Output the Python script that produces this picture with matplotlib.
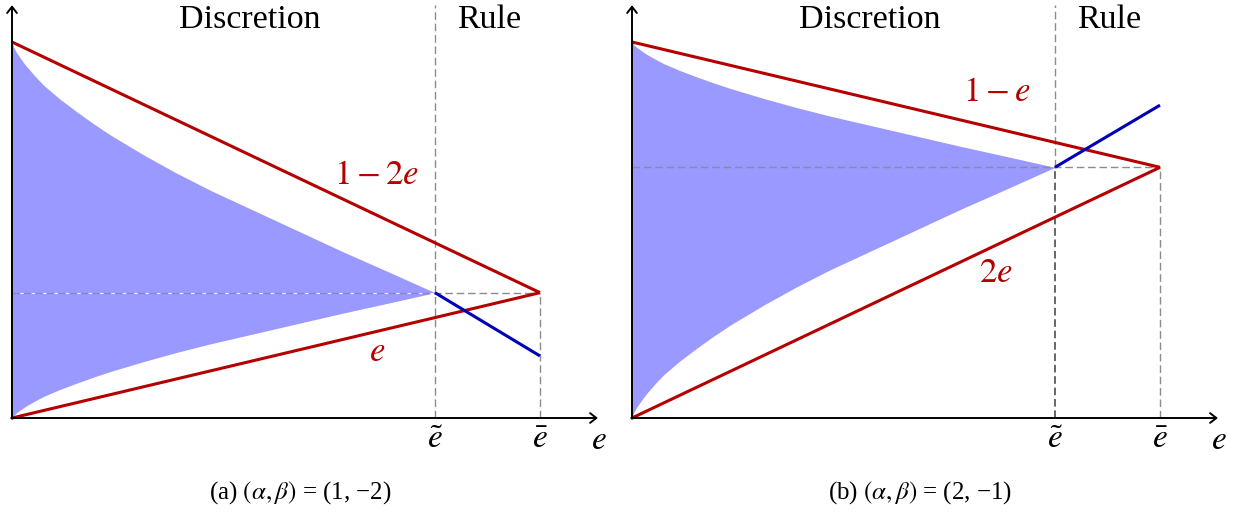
import numpy as np
import matplotlib
matplotlib.use("Agg")
import matplotlib.pyplot as plt

plt.rcParams['font.family'] = ['Liberation Serif', 'DejaVu Serif']
plt.rcParams['mathtext.fontset'] = 'stix'

# ---------------- data ----------------
e_tilde = [0.267, 0.267]          # (a), (b)
e_bar = [1 / 3, 1 / 3]
cross_y = [1 / 3, 2 / 3]          # value of the red lines at e_bar

# red boundary lines (endpoints at e = 0 and e = e_bar)
red_e = [0.0, 1 / 3]
a_top_line = [1.0, 1 / 3]         # 1 - 2e
a_bot_line = [0.0, 1 / 3]         # e
b_top_line = [1.0, 2 / 3]         # 1 - e
b_bot_line = [0.0, 2 / 3]         # 2e

# blue "rule" segments
a_blue_y = [1 / 3, 0.165]
b_blue_y = [2 / 3, 0.832]

# shaded discretion region: all four boundaries share one measured profile g(e)
# (a): upper = 1 - 2g, lower = g      (b): upper = 1 - g, lower = 2g
g_e = [0, 0.001, 0.002, 0.0035, 0.005, 0.0075, 0.010, 0.015, 0.020, 0.030,
       0.041, 0.052, 0.062, 0.083, 0.104, 0.125, 0.146, 0.167, 0.188, 0.209,
       0.237, 0.267]
g_val = [0, 0.0065, 0.0110, 0.0160, 0.0205, 0.0280, 0.0345, 0.0465, 0.0575,
         0.0755, 0.0930, 0.1095, 0.1235, 0.1500, 0.1745, 0.1970, 0.2175,
         0.2380, 0.2585, 0.2790, 0.3050, 1 / 3]
upper_mult = [2, 1]
lower_mult = [1, 2]

line_labels = [[r'$1-2e$', r'$e$'], [r'$1-e$', r'$2e$']]
line_label_pos = [[(0.2298, 0.644), (0.2304, 0.1755)],
                  [(0.2301, 0.867), (0.2298, 0.383)]]
captions = [['(a) ', r'$(\alpha,\beta)$', ' = (1, \u22122)'],
            ['(b) ', r'$(\alpha,\beta)$', ' = (2, \u22121)']]
region_labels = ['Discretion', 'Rule']

# ---------------- styles ----------------
RED = '#b40000'
BLUE = '#0000b4'
FILL = '#9999ff'
GRAY = '#8c8c8c'

W, H = 1239, 516
fig = plt.figure(figsize=(W / 100, H / 100), dpi=100)

sx, sy = 1584.0, 376.0            # px per data unit
xlim = (-0.005, 0.385)
ylim = (-0.12, 1.10)
origins = [(12, 418), (632, 418)]

tops = [a_top_line, b_top_line]
bots = [a_bot_line, b_bot_line]
blues = [a_blue_y, b_blue_y]

g_e_arr = np.array(g_e)
g_arr = np.array(g_val)

for i, (ox, oy) in enumerate(origins):
    left_px = ox + xlim[0] * sx
    w_px = (xlim[1] - xlim[0]) * sx
    top_px = oy - ylim[1] * sy
    h_px = (ylim[1] - ylim[0]) * sy
    ax = fig.add_axes([left_px / W, 1 - (top_px + h_px) / H, w_px / W, h_px / H])
    ax.set_xlim(*xlim)
    ax.set_ylim(*ylim)
    ax.axis('off')

    et, eb, cy = e_tilde[i], e_bar[i], cross_y[i]

    # shaded region
    upper = 1 - upper_mult[i] * g_arr
    lower = lower_mult[i] * g_arr
    ax.fill_between(g_e_arr, lower, upper, color=FILL, lw=0, zorder=1)

    # dashed helper lines
    dkw = dict(color=GRAY, lw=1.0, dashes=(5.5, 2.7), zorder=2, clip_on=False)
    if i == 0:
        ax.plot([0, et], [cy, cy], color='white', lw=0.8, alpha=0.8, zorder=1.5)
    ax.plot([0, eb], [cy, cy], **dkw)
    ax.plot([eb, eb], [0, cy], **dkw)
    if i == 0:
        ax.plot([et, et], [0, 1.098], **dkw)
    else:
        ax.plot([et, et], [cy, 1.098], **dkw)
        ax.plot([et, et], [0, cy], color='#666666', lw=1.4,
                dashes=(5.5 / 1.4, 2.7 / 1.4), zorder=2.1, clip_on=False)

    # red lines
    ax.plot(red_e, tops[i], color=RED, lw=2.2, zorder=3, solid_capstyle='butt')
    ax.plot(red_e, bots[i], color=RED, lw=2.2, zorder=3, solid_capstyle='butt')
    # blue rule segment
    ax.plot([et, eb], blues[i], color=BLUE, lw=2.2, zorder=4, solid_capstyle='butt')

    # axes with arrows
    akw = dict(arrowstyle='->,head_length=0.45,head_width=0.35', lw=1.4,
               color='black', shrinkA=0, shrinkB=0)
    ax.annotate('', xy=(0.3699, 0), xytext=(-0.0005, 0), arrowprops=akw,
                annotation_clip=False, zorder=5)
    ax.annotate('', xy=(0, 1.098), xytext=(0, -0.002), arrowprops=akw,
                annotation_clip=False, zorder=5)

    # texts
    ax.text(0.150, 1.059, region_labels[0], fontsize=24.5, ha='center', va='center')
    ax.text(0.301, 1.059, region_labels[1], fontsize=24.5, ha='center', va='center')
    for lab, (lx, ly_) in zip(line_labels[i], line_label_pos[i]):
        ax.text(lx, ly_, lab, color=RED, fontsize=25, ha='center', va='center')
    ax.text(et, -0.058, r'$\tilde{e}$', fontsize=24, ha='center', va='center')
    ax.text(eb, -0.058, r'$\bar{e}$', fontsize=24, ha='center', va='center')
    ax.text(0.3706, -0.061, r'$e$', fontsize=24, ha='center', va='center')

    fig.text((ox + 288) / W, 1 - 493 / H, ''.join(captions[i]), fontsize=18,
             ha='center', va='center')

fig.savefig('out.png', dpi=100)
